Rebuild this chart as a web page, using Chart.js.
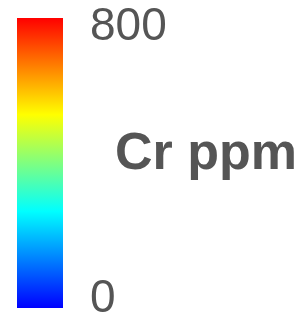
<!DOCTYPE html>
<html><head><meta charset="utf-8">
<script src="https://cdn.jsdelivr.net/npm/chart.js@4/dist/chart.umd.min.js"></script>
<style>html,body{margin:0;padding:0;background:#fff;overflow:hidden}canvas{display:block}</style>
</head><body>
<canvas id="c" width="305" height="320"></canvas>
<script>
// ---- data ----
const categories = ['Cr'];
const seriesLow = [0];
const seriesHigh = [800];
const tickValues = [0, 800];
const tickLabels = ['0', '800'];
const titleText = 'Cr ppm';

// ---- styles ----
const colorStops = [[0, 'rgb(0,0,255)'], [1/3, 'rgb(0,255,255)'], [2/3, 'rgb(255,255,0)'], [1, 'rgb(255,0,0)']];
const textColor = '#555555';
const fontFamily = '"Liberation Sans", Arial, sans-serif';

const titlePlugin = {
  id: 'sideTitle',
  afterDraw(chart) {
    const c = chart.ctx, a = chart.chartArea;
    c.save();
    c.font = 'bold 52px ' + fontFamily;
    c.fillStyle = textColor;
    c.textAlign = 'left';
    c.textBaseline = 'alphabetic';
    c.fillText(titleText, a.right + 52, (a.top + a.bottom) / 2 + 6);
    c.restore();
  }
};

new Chart(document.getElementById('c'), {
  type: 'bar',
  data: {
    labels: categories,
    datasets: [{
      data: categories.map((_, i) => [seriesLow[i], seriesHigh[i]]),
      barPercentage: 1,
      categoryPercentage: 1,
      borderWidth: 0,
      backgroundColor: (ctx) => {
        const chart = ctx.chart;
        if (!chart.chartArea) return 'rgb(0,255,0)';
        const ys = chart.scales.y;
        const g = chart.ctx.createLinearGradient(0, ys.getPixelForValue(seriesLow[0]), 0, ys.getPixelForValue(seriesHigh[0]));
        colorStops.forEach(([p, col]) => g.addColorStop(p, col));
        return g;
      }
    }]
  },
  options: {
    responsive: false,
    animation: false,
    devicePixelRatio: 1,
    layout: { padding: { left: 17, top: 18, bottom: 12, right: 0 } },
    plugins: { legend: { display: false }, tooltip: { enabled: false } },
    scales: {
      x: { display: false },
      y: { display: false, min: tickValues[0], max: tickValues[1] },
      y2: {
        position: 'right',
        min: -26.5,
        max: 826.5,
        grid: { display: false, drawTicks: false },
        border: { display: false },
        afterBuildTicks: (s) => { s.ticks = tickValues.map(v => ({ value: v })); },
        afterFit: (s) => { s.width = 242; s.paddingTop = 0; s.paddingBottom = 0; },
        ticks: {
          autoSkip: false,
          padding: 27,
          color: textColor,
          font: { family: fontFamily, size: 46 },
          callback: (v) => tickLabels[tickValues.indexOf(v)]
        }
      }
    }
  },
  plugins: [titlePlugin]
});
</script>
</body></html>
